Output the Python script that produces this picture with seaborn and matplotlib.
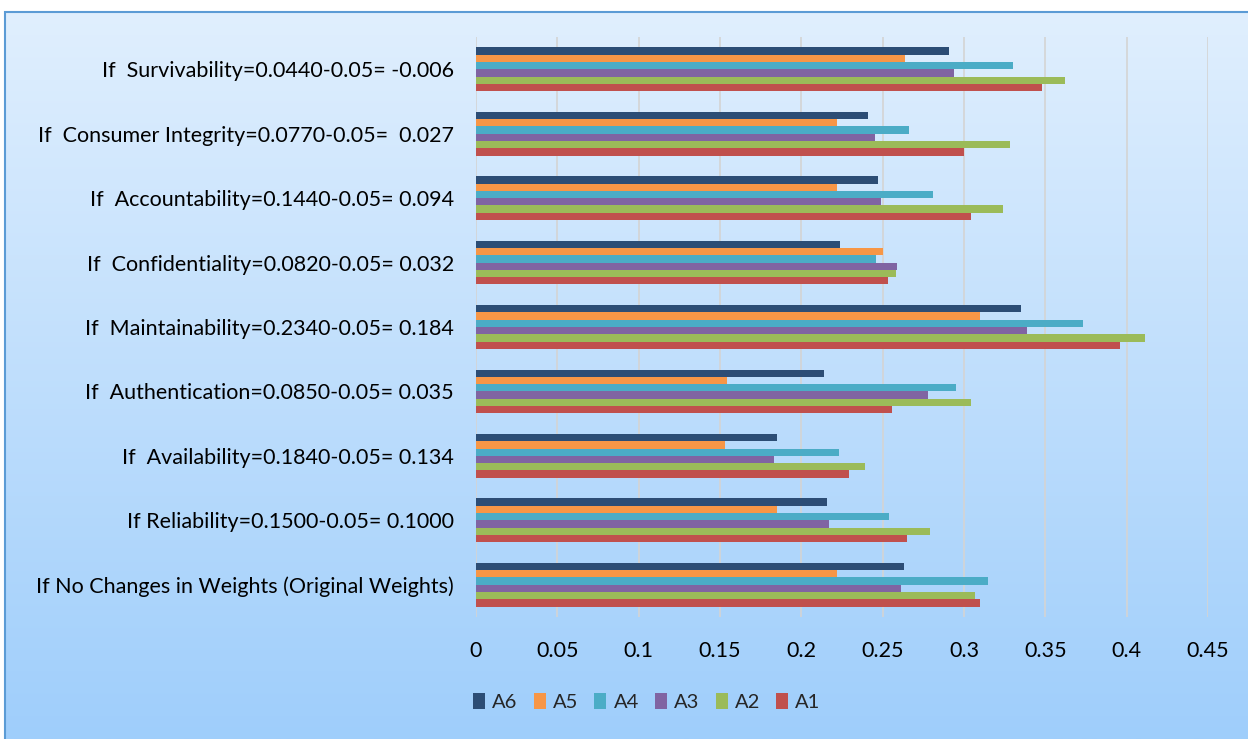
import numpy as np
import pandas as pd
import matplotlib
matplotlib.use("Agg")
import matplotlib.pyplot as plt
import seaborn as sns
from matplotlib.patches import Rectangle

# categories, top to bottom as drawn
scenarios = [
    "If  Survivability=0.0440-0.05= -0.006",
    "If  Consumer Integrity=0.0770-0.05=  0.027",
    "If  Accountability=0.1440-0.05= 0.094",
    "If  Confidentiality=0.0820-0.05= 0.032",
    "If  Maintainability=0.2340-0.05= 0.184",
    "If  Authentication=0.0850-0.05= 0.035",
    "If  Availability=0.1840-0.05= 0.134",
    "If Reliability=0.1500-0.05= 0.1000",
    "If No Changes in Weights (Original Weights)",
]
series = ["A6", "A5", "A4", "A3", "A2", "A1"]

a6 = [0.291, 0.241, 0.247, 0.224, 0.335, 0.214, 0.185, 0.216, 0.263]
a5 = [0.264, 0.222, 0.222, 0.250, 0.310, 0.154, 0.153, 0.185, 0.222]
a4 = [0.330, 0.266, 0.281, 0.246, 0.373, 0.295, 0.223, 0.254, 0.315]
a3 = [0.294, 0.245, 0.249, 0.259, 0.339, 0.278, 0.183, 0.217, 0.261]
a2 = [0.362, 0.328, 0.324, 0.258, 0.411, 0.304, 0.239, 0.279, 0.307]
a1 = [0.348, 0.300, 0.304, 0.253, 0.396, 0.256, 0.229, 0.265, 0.310]

colors = ["#2c4d75", "#f79646", "#4bacc6", "#8064a2", "#9bbb59", "#c0504d"]

df = pd.DataFrame({"scenario": scenarios, "A6": a6, "A5": a5, "A4": a4,
                   "A3": a3, "A2": a2, "A1": a1})
long = df.melt(id_vars="scenario", var_name="alt", value_name="score")

sns.set_style("white")
plt.rcParams["font.family"] = ["Lato", "DejaVu Sans"]

fig = plt.figure(figsize=(12.48, 7.39), dpi=100)

# gradient chart-area background
bg = fig.add_axes([5 / 1248, 0, 1 - 5 / 1248, 1 - 12 / 739])
grad = np.linspace(0, 1, 256).reshape(-1, 1)
cmap = matplotlib.colors.LinearSegmentedColormap.from_list("bg", ["#e0effe", "#9fcefb"])
bg.imshow(grad, aspect="auto", cmap=cmap, extent=[0, 1, 0, 1], origin="upper")
bg.set_xlim(0, 1)
bg.set_ylim(0, 1)
bg.axis("off")
fig.add_artist(Rectangle((5 / 1248, -0.01), 1.0, 1 - 12 / 739 + 0.01,
                         transform=fig.transFigure, fill=False,
                         edgecolor="#5b9bd5", linewidth=1.5))

ax = fig.add_axes([476 / 1248, 1 - 617 / 739, (1208 - 476) / 1248, 580 / 739])
ax.patch.set_alpha(0)
sns.barplot(data=long, y="scenario", x="score", hue="alt", hue_order=series,
            palette=colors, saturation=1, orient="h", width=0.68, ax=ax,
            legend=True, linewidth=0)

ax.set_xlim(0, 0.45)
ax.set_xticks(np.arange(0, 0.451, 0.05))
ax.set_xticklabels(["0", "0.05", "0.1", "0.15", "0.2", "0.25", "0.3", "0.35", "0.4", "0.45"])
ax.xaxis.grid(True, color="#d4d4d4", linewidth=1.2)
ax.set_axisbelow(True)
for s in ax.spines.values():
    s.set_visible(False)
ax.tick_params(axis="x", length=0, pad=17, labelsize=15.5, colors="black")
ax.tick_params(axis="y", length=0, pad=16, labelsize=15.5, colors="black")
ax.set_xlabel("")
ax.set_ylabel("")

handles, labels = ax.get_legend_handles_labels()
ax.get_legend().remove()
fig.legend(handles, labels, loc="center left", bbox_to_anchor=(455 / 1248, 1 - 702 / 739),
           ncol=6, frameon=False, fontsize=14.5, handlelength=0.6, handleheight=0.8,
           handletextpad=0.35, columnspacing=0.8)

fig.savefig("out.png", dpi=100)
